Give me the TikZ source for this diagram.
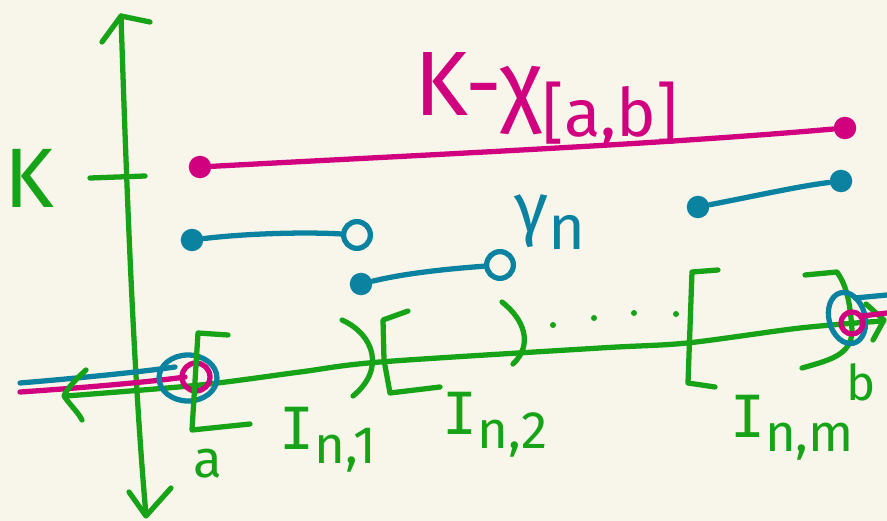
\documentclass[tikz,border=0pt]{standalone}
\usepackage{fontspec}
\setmainfont{Fira Sans}
\newfontfamily\serifI{DejaVu Sans Mono}
\usetikzlibrary{calc}
\definecolor{bg}{HTML}{F8F6EA}
\definecolor{grn}{HTML}{17A317}
\definecolor{mag}{HTML}{D1007F}
\definecolor{tea}{HTML}{0B82A0}
\newcommand{\lowsub}[2]{\raisebox{-0.45ex}{\fontsize{#1}{#1}\selectfont #2}}
\begin{document}
\begin{tikzpicture}[x=0.01cm,y=-0.01cm,line cap=round,line join=round,
  pen/.style={line width=1.5pt},
  gpen/.style={pen,draw=grn},
  mpen/.style={pen,draw=mag},
  tpen/.style={pen,draw=tea},
  fdot/.style={circle,inner sep=0pt,minimum size=6.4pt},
  odot/.style={circle,line width=1.5pt,fill=bg,inner sep=0pt,minimum size=7.6pt},
  lbl/.style={inner sep=0pt,text=grn}]
\fill[bg] (0,0) rectangle (887,521);
\useasboundingbox (0,0) rectangle (887,521);

% vertical axis
\draw[gpen] (121,16) .. controls (127,200) and (134,380) .. (146,515);
\draw[gpen] (102,42) -- (121,16) -- (150,22);
\draw[gpen] (129,492) -- (146,516) -- (171,488);
% K tick and label
\draw[gpen] (90,178) -- (145,176);
\node[lbl,font=\fontsize{24}{28}\selectfont] (K) at (29,178) {K};

% left teal and magenta lines
\draw[tpen] (20,383) .. controls (80,378) and (140,372) .. (175,367);
\draw[mpen] (20,392) .. controls (80,388) and (150,382) .. (185,377);

% horizontal axis
\draw[gpen] plot[smooth] coordinates {(66,396) (200,385) (300,372) (380,362) (600,348) (687,343) (800,328) (882,321)};
\draw[gpen] (86,370) .. controls (75,380) and (66,390) .. (64,396) .. controls (70,405) and (78,412) .. (82,420);
\draw[gpen] (866,304) -- (884,320) -- (873,340);

% circles at a
\draw[tpen] (188,378) ellipse [x radius=29, y radius=23];
\draw[mpen] (196,377) circle [radius=14];
% bracket at a
\draw[gpen] (228,335) -- (198,333) -- (192,430) -- (250,424);
\node[lbl,font=\fontsize{15}{18}\selectfont] (a) at (208,464) {a};
\node[lbl,font=\fontsize{16.5}{20}\selectfont] (I1) at (328,440) {{\serifI I}\lowsub{15}{n,1}};

% ) [ second
\draw[gpen] (342,320) .. controls (375,335) and (385,370) .. (353,396);
\draw[gpen] (408,311) -- (383,320) -- (384,360) -- (390,393) -- (440,387);
\node[lbl,font=\fontsize{16.5}{20}\selectfont] (I2) at (495,425) {{\serifI I}\lowsub{15}{n,2}};
% )
\draw[gpen] (502,302) .. controls (525,320) and (533,345) .. (513,364);
% dots
\foreach \p in {(553,325),(594,318),(634,313),(676,314)} \fill[grn] \p circle [radius=3];

% [ last
\draw[gpen] (718,270) -- (692,272) -- (688,383) -- (715,387);
% ] last
\draw[gpen] (805,275) -- (837,272) .. controls (846,285) and (850,300) .. (852,330) .. controls (852,355) and (830,360) .. (802,368);
\node[lbl,font=\fontsize{16.5}{20}\selectfont] (Im) at (792,428) {{\serifI I}\lowsub{15}{n,m}};
\node[lbl,font=\fontsize{14}{17}\selectfont] (b) at (861,382) {b};

% circles at b
\draw[tpen,rotate around={15:(847,318)}] (847,318) ellipse [x radius=18, y radius=26];
\draw[mpen] (852,323) circle [radius=11];
\draw[mpen] (862,316) -- (887,313);
\draw[tpen] (855,298) -- (887,295);

% K - chi_[a,b]
\node[fdot,fill=mag] (m1) at (200,167) {};
\node[fdot,fill=mag] (m2) at (845,128) {};
\draw[mpen] (m1) .. controls (420,155) and (650,145) .. (m2);
\node[inner sep=0pt,text=mag,font=\fontsize{26}{30}\selectfont] (title) at (546,100) {K-χ\lowsub{19}{[a,b]}};

% gamma_n segments
\node[fdot,fill=tea] (t1) at (192,240) {};
\node[odot,draw=tea] (t2) at (357,235) {};
\draw[tpen] (t1) .. controls (250,233) and (310,232) .. (t2);
\node[fdot,fill=tea] (t3) at (361,284) {};
\node[odot,draw=tea] (t4) at (500,265) {};
\draw[tpen] (t3) .. controls (410,272) and (460,268) .. (t4);
\node[fdot,fill=tea] (t5) at (698,207) {};
\node[fdot,fill=tea] (t6) at (841,181) {};
\draw[tpen] (t5) .. controls (760,195) and (800,186) .. (t6);
\node[inner sep=0pt,text=tea,font=\fontsize{20}{24}\selectfont] (g) at (550,222) {γ\lowsub{18}{n}};
\end{tikzpicture}
\end{document}
